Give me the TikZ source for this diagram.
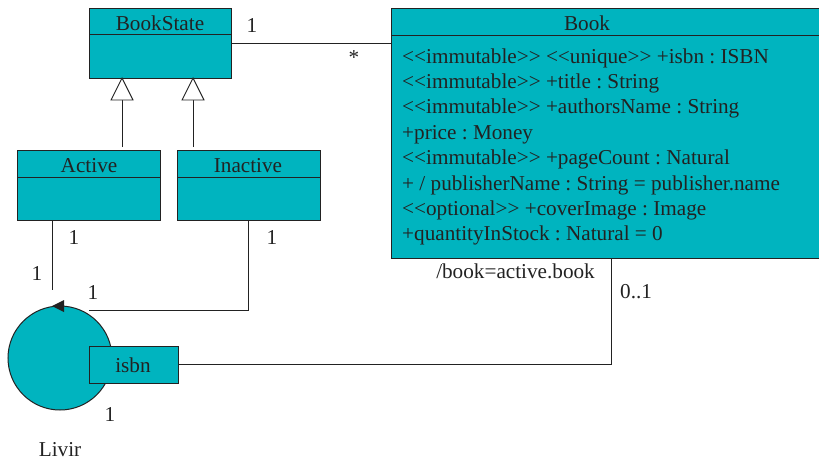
\documentclass[tikz,border=0pt]{standalone}
\usepackage{fontspec}
\setmainfont{Liberation Serif}
\frenchspacing
\definecolor{teal1}{RGB}{0,180,191}
\definecolor{ink}{RGB}{34,34,34}
\begin{document}
\begin{tikzpicture}[x=1pt,y=-1pt,
  font=\fontsize{21.2}{24}\selectfont,
  cls/.style={draw=ink,line width=1pt,fill=teal1,anchor=north west,inner sep=0pt,outer sep=0pt},
  txt/.style={text=ink,inner sep=0pt,anchor=base},
  txtl/.style={text=ink,inner sep=0pt,anchor=base west},
  conn/.style={draw=ink,line width=0.9pt},
  gen/.style={draw=ink,line width=0.9pt,fill=white}]
\useasboundingbox (0,0) rectangle (819,461);
% BookState
\node[cls,minimum width=142pt,minimum height=70pt] (bs) at (89,8) {};
\draw[conn] (89,34) -- (231,34);
\node[txt] (bst) at (160,30) {BookState};
% Active
\node[cls,minimum width=143pt,minimum height=70pt] (ac) at (17,150) {};
\draw[conn] (17,177) -- (160,177);
\node[txt] (act) at (89,172) {Active};
% Inactive
\node[cls,minimum width=143pt,minimum height=70pt] (in) at (177,150) {};
\draw[conn] (177,177) -- (320,177);
\node[txt] (int) at (248,172) {Inactive};
% Book
\node[cls,minimum width=440pt,minimum height=250pt] (bk) at (391,8) {};
\draw[conn] (391,35) -- (831,35);
\node[txt] (bkt) at (587,30) {Book};
\node[txtl] (a1) at (402,63) {<{}<immutable>{}> <{}<unique>{}> +isbn : ISBN};
\node[txtl] (a2) at (402,88.4) {<{}<immutable>{}> +title : String};
\node[txtl] (a3) at (402,113.8) {<{}<immutable>{}> +authorsName : String};
\node[txtl] (a4) at (402,139.2) {+price : Money};
\node[txtl] (a5) at (402,164.6) {<{}<immutable>{}> +pageCount : Natural};
\node[txtl] (a6) at (402,190) {+ / publisherName : String = publisher.name};
\node[txtl] (a7) at (402,215.4) {<{}<optional>{}> +coverImage : Image};
\node[txtl] (a8) at (402,240.8) {+quantityInStock : Natural = 0};
% generalization
\coordinate (g1) at (122,147);
\coordinate (g2) at (193,147);
\coordinate (t1) at (122,100);
\coordinate (t2) at (193,100);
\draw[conn] (g1) -- (t1);
\draw[conn] (g2) -- (t2);
\draw[gen] (122,78) -- (133,100) -- (111,100) -- cycle;
\draw[gen] (193,78) -- (204,100) -- (182,100) -- cycle;
% association BookState - Book
\draw[conn] (231,43) -- (391,43);
\node[txt] (m1) at (252,32) {1};
\node[txt] (m2) at (354,64) {*};
% Livir circle
\node[draw=ink,line width=1pt,fill=teal1,circle,minimum size=104pt,inner sep=0pt] (lv) at (60,358) {};
\fill[ink] (52,306) -- (64,300) -- (64,312) -- cycle;
\node[cls,minimum width=89pt,minimum height=37pt] (isbn) at (89,346) {};
\node[txt] (isbnt) at (133,372) {isbn};
\node[txt] (lvt) at (60,456) {Livir};
% Active link
\coordinate (ae) at (52,290);
\draw[conn] (52,220) -- (ae);
\node[txt] (m3) at (74,244) {1};
\node[txt] (m4) at (37,280) {1};
% Inactive link
\coordinate (ie) at (89,310);
\draw[conn] (248,220) -- (248,310) -- (ie);
\node[txt] (m5) at (272,244) {1};
\node[txt] (m6) at (93,299) {1};
% isbn - Book
\draw[conn] (178,364) -- (611,364) -- (611,258);
\node[txt,anchor=base east] (m7) at (595,278) {/book=active.book};
\node[txtl] (m8) at (620,298) {0..1};
\node[txt] (m9) at (110,421) {1};
\end{tikzpicture}
\end{document}
